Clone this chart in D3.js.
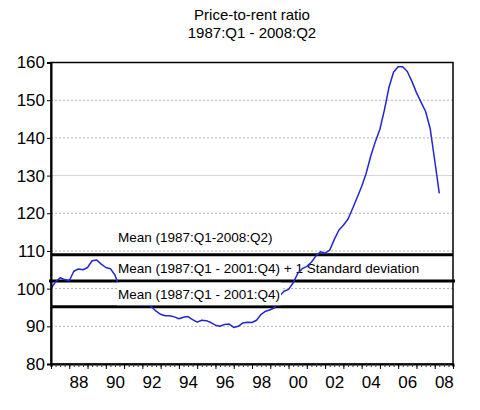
<!DOCTYPE html>
<html>
<head>
<meta charset="utf-8">
<script src="https://cdn.jsdelivr.net/npm/d3@7"></script>
<style>
  body { margin: 0; background: #fff; }
  text { font-family: "Liberation Sans", Arial, sans-serif; }
</style>
</head>
<body>
<script>
const width = 480;
const height = 410;
const margin = {top: 62.5, right: 27, bottom: 46, left: 51};

// quarterly price-to-rent ratio, 1987:Q1 .. 2008:Q2
const startYear = 1987;
const ratio = [
  100.0, 101.8, 102.9, 102.4, 102.1, 104.6, 105.2, 105.0, 105.6, 107.4, 107.6, 106.5, 105.6, 105.3, 103.6, 100.3,
  98.6, 97.4, 96.6, 96.0,
  95.6, 95.9, 95.2, 94.0, 93.2, 92.8, 92.8, 92.5, 92.0, 92.4, 92.6, 91.8, 91.1, 91.6, 91.5, 91.0,
  90.3, 90.0, 90.5, 90.6, 89.7, 90.0, 90.9, 91.1, 91.0, 91.6, 93.2, 94.0, 94.4, 95.0,
  98.0, 99.3, 99.8, 101.5, 104.0, 105.3, 105.9, 107.0, 108.7, 109.8, 109.4, 110.2, 113.0, 115.5, 116.8, 118.4,
  121.2, 124.1, 127.1, 130.6,
  135.2, 139.0, 142.3, 147.5, 153.5, 157.5, 158.9, 158.9, 157.6, 155.0, 152.0, 149.5, 147.0, 142.5, 134.0, 125.3
];

// reference lines and their captions
const refValues = [109.0, 102.0, 95.2];
const refLabels = [
  "Mean (1987:Q1-2008:Q2)",
  "Mean (1987:Q1 - 2001:Q4) + 1 Standard deviation",
  "Mean (1987:Q1 - 2001:Q4)"
];

const yTicks = [80, 90, 100, 110, 120, 130, 140, 150, 160];
const xLabelYears = [1988, 1990, 1992, 1994, 1996, 1998, 2000, 2002, 2004, 2006, 2008];
const titleLines = ["Price-to-rent ratio", "1987:Q1 - 2008:Q2"];

const x = d3.scaleLinear().domain([1987, 2009]).range([margin.left, width - margin.right]);
const y = d3.scaleLinear().domain([80, 160]).range([height - margin.bottom, margin.top]);

const svg = d3.select("body").append("svg")
    .attr("width", width)
    .attr("height", height);

// title
svg.append("g")
    .selectAll("text")
    .data(titleLines)
    .join("text")
    .attr("x", 252)
    .attr("y", (d, i) => 20 + i * 18)
    .attr("text-anchor", "middle")
    .attr("font-size", 15)
    .text(d => d);

// grid
svg.append("g")
    .selectAll("line")
    .data(yTicks.slice(1, -1))
    .join("line")
    .attr("x1", margin.left)
    .attr("x2", width - margin.right)
    .attr("y1", d => y(d))
    .attr("y2", d => y(d))
    .attr("stroke", d => d == 130 ? "#d4d4d4" : "#b4b4b4")
    .attr("stroke-dasharray", d => d == 130 ? null : "2,2");

// reference lines
svg.append("g")
    .selectAll("line")
    .data(refValues)
    .join("line")
    .attr("x1", (d, i) => margin.left - (i == 1 ? 2 : 0))
    .attr("x2", (d, i) => width - margin.right + (i == 1 ? 2 : 0))
    .attr("y1", d => y(d))
    .attr("y2", d => y(d))
    .attr("stroke", "#000")
    .attr("stroke-width", 3);

const labelY = [242, 273, 299];

// first two captions sit under the series
svg.append("g")
    .selectAll("text")
    .data(refLabels.slice(0, 2))
    .join("text")
    .attr("x", 118)
    .attr("y", (d, i) => labelY[i])
    .attr("font-size", 13.5)
    .text(d => d);

// series
const line = d3.line()
    .x((d, i) => x(startYear + i / 4))
    .y(d => y(d));

svg.append("path")
    .datum(ratio)
    .attr("fill", "none")
    .attr("stroke", "#2326d4")
    .attr("stroke-width", 1.5)
    .attr("stroke-linejoin", "round")
    .attr("d", line);

// third caption has a white box that hides the series
const lab3 = svg.append("g");
const box = lab3.append("rect").attr("fill", "#fff");
const t3 = lab3.append("text")
    .attr("x", 118)
    .attr("y", labelY[2])
    .attr("font-size", 13.5)
    .text(refLabels[2]);
const bb = t3.node().getBBox();
box.attr("x", bb.x - 1)
    .attr("width", bb.width + 2)
    .attr("y", y(refValues[1]) + 1.5)
    .attr("height", y(refValues[2]) - y(refValues[1]) - 3);

// frame
svg.append("rect")
    .attr("x", margin.left)
    .attr("y", margin.top)
    .attr("width", width - margin.right - margin.left)
    .attr("height", height - margin.bottom - margin.top)
    .attr("fill", "none")
    .attr("stroke", "#000")
    .attr("stroke-width", 1.5);

// y axis
const yAxis = svg.append("g")
    .attr("transform", `translate(${margin.left},0)`)
    .call(d3.axisLeft(y).tickValues(yTicks).tickSize(4).tickPadding(2));
yAxis.select(".domain").attr("stroke-width", 2);
yAxis.selectAll("text").attr("font-size", 17).attr("font-family", "Liberation Sans, Arial, sans-serif").attr("fill", "#000");

// x axis: quarter ticks, yearly ticks, labels mid-year
const quarters = d3.range(0, 88).map(i => startYear + i / 4);
const years = d3.range(1987, 2010);
const xb = height - margin.bottom;

const xq = svg.append("g")
    .attr("transform", `translate(0,${xb})`)
    .call(d3.axisBottom(x).tickValues(quarters).tickSize(3).tickFormat(""));
xq.select(".domain").attr("stroke-width", 2);
xq.selectAll(".tick line").attr("stroke", "#333");

svg.append("g")
    .attr("transform", `translate(0,${xb})`)
    .call(d3.axisBottom(x).tickValues(years).tickSize(5).tickFormat(""))
    .select(".domain").remove();

const xl = svg.append("g")
    .attr("transform", `translate(0,${xb})`)
    .call(d3.axisBottom(x)
        .tickValues(xLabelYears.map(d => d + 0.5))
        .tickSize(0)
        .tickPadding(12)
        .tickFormat(d => String(Math.floor(d) % 100).padStart(2, "0")));
xl.select(".domain").remove();
xl.selectAll("text").attr("font-size", 17).attr("font-family", "Liberation Sans, Arial, sans-serif").attr("fill", "#000");
</script>
</body>
</html>
